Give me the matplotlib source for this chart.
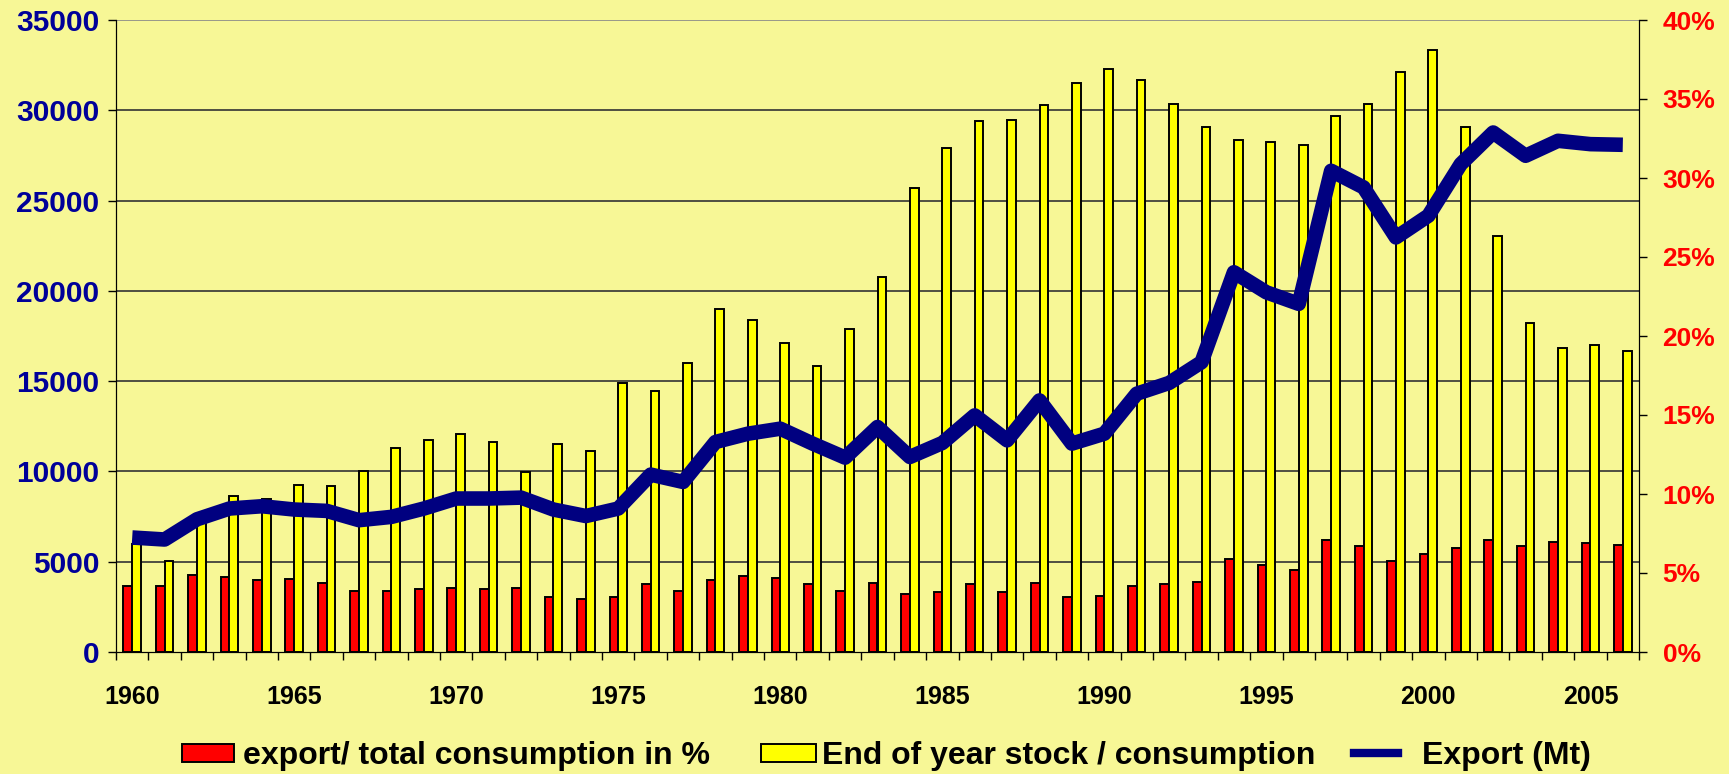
import numpy as np
import matplotlib
matplotlib.use("Agg")
import matplotlib.pyplot as plt
from matplotlib.patches import Patch
from matplotlib.lines import Line2D

plt.rcParams['font.family'] = ['Liberation Sans', 'DejaVu Sans']
plt.rcParams['font.weight'] = 'bold'

# data
years = list(range(1960, 2007))
export_share = [4.15, 4.15, 4.85, 4.76, 4.55, 4.65, 4.38, 3.87, 3.87, 3.96,
                4.07, 3.96, 4.07, 3.48, 3.37, 3.48, 4.28, 3.87, 4.57, 4.78,
                4.68, 4.28, 3.87, 4.38, 3.64, 3.77, 4.28, 3.77, 4.38, 3.48,
                3.56, 4.17, 4.28, 4.46, 5.88, 5.48, 5.18, 7.06, 6.68, 5.77,
                6.19, 6.59, 7.06, 6.68, 6.97, 6.87, 6.78]
stock_ratio = [6.81, 5.75, 8.6, 9.88, 9.69, 10.57, 10.49, 11.48, 12.89, 13.40,
               13.79, 13.29, 11.42, 13.19, 12.70, 17.02, 16.51, 18.32, 21.74, 21.04,
               19.55, 18.11, 20.43, 23.76, 29.38, 31.91, 33.62, 33.70, 34.61, 36.04,
               36.93, 36.22, 34.69, 33.20, 32.40, 32.31, 32.10, 33.91, 34.69, 36.71,
               38.12, 33.20, 26.35, 20.83, 19.23, 19.42, 19.02]
export_mt = [6340, 6230, 7350, 7945, 8072, 7890, 7815, 7300, 7483, 7945,
             8500, 8500, 8550, 7890, 7530, 7945, 9825, 9418, 11630, 12090,
             12368, 11540, 10765, 12460, 10800, 11575, 13104, 11722, 13933, 11540,
             12090, 14304, 14900, 16050, 21030, 19920, 19280, 26650, 25730, 22960,
             24160, 27020, 28770, 27480, 28310, 28125, 28089]
left_ticks = [0, 5000, 10000, 15000, 20000, 25000, 30000, 35000]
right_ticks = [0, 5, 10, 15, 20, 25, 30, 35, 40]
year_labels = [1960, 1965, 1970, 1975, 1980, 1985, 1990, 1995, 2000, 2005]

bg = '#F7F796'
fig = plt.figure(figsize=(17.29, 7.74), dpi=100, facecolor=bg)
ax = fig.add_axes([116 / 1729, 1 - 652 / 774, (1639 - 116) / 1729, (652 - 20) / 774])
ax.set_facecolor(bg)
ax2 = ax.twinx()

x = np.arange(len(years))
w = 0.27
ax.bar(x - w / 2, export_share, width=w, color='#FF0000', edgecolor='black', linewidth=1.4, zorder=3)
ax.bar(x + w / 2, stock_ratio, width=w, color='#FFFF00', edgecolor='black', linewidth=1.4, zorder=3)
ax.set_ylim(0, 40)
ax.set_xlim(-0.5, len(years) - 0.5)

# gridlines follow the left (Mt) scale
for v in left_ticks[1:]:
    ax.axhline(v / left_ticks[-1] * right_ticks[-1], color='#888888' if v == left_ticks[-1] else '#333333',
               lw=1.2, zorder=1)

# percent axis on the right
ax.yaxis.tick_right()
ax.set_yticks(right_ticks)
ax.set_yticklabels([f"{t}%" for t in right_ticks], color='#FF0000', fontsize=19, fontweight='bold')
ax.tick_params(axis='y', direction='out', length=6, width=1, pad=11)

ax.set_xticks(np.arange(-0.5, len(years), 1))
ax.set_xticklabels([])
ax.tick_params(axis='x', which='major', direction='out', length=6, width=1)
ax.set_xticks([years.index(y) for y in year_labels], minor=True)
ax.set_xticklabels([str(y) for y in year_labels], minor=True, fontsize=18, fontweight='bold')
ax.tick_params(axis='x', which='minor', length=0, pad=24)
ax.spines['top'].set_visible(False)

# export line on the left axis
ax2.plot(x, export_mt, color='#000080', lw=10.5, solid_capstyle='butt', zorder=4)
ax2.set_ylim(0, 35000)
ax2.yaxis.tick_left()
ax2.set_yticks(left_ticks)
ax2.set_yticklabels([str(t) for t in left_ticks], color='#000099', fontsize=21.5, fontweight='bold')
ax2.tick_params(axis='y', direction='out', length=6, width=1, pad=6)
ax2.spines['top'].set_visible(False)

# legend, one entry each
ly = 1 - 756 / 774
fs = 23
fig.legend(handles=[Patch(facecolor='#FF0000', edgecolor='black', linewidth=1.4)],
           labels=['export/ total consumption in %'], loc='center left',
           bbox_to_anchor=(182 / 1729, ly), frameon=False, borderpad=0, borderaxespad=0,
           handlelength=1.63, handleheight=0.5, handletextpad=0.28, fontsize=fs)
fig.legend(handles=[Patch(facecolor='#FFFF00', edgecolor='black', linewidth=1.4)],
           labels=['End of year stock / consumption'], loc='center left',
           bbox_to_anchor=(761 / 1729, ly), frameon=False, borderpad=0, borderaxespad=0,
           handlelength=1.72, handleheight=0.5, handletextpad=0.2, fontsize=fs)
fig.legend(handles=[Line2D([0], [0], color='#000080', lw=6)],
           labels=['Export (Mt)'], loc='center left',
           bbox_to_anchor=(1354 / 1729, ly), frameon=False, borderpad=0, borderaxespad=0,
           handlelength=1.38, handletextpad=0.75, fontsize=fs)

fig.savefig('out.png', dpi=100, facecolor=bg)
